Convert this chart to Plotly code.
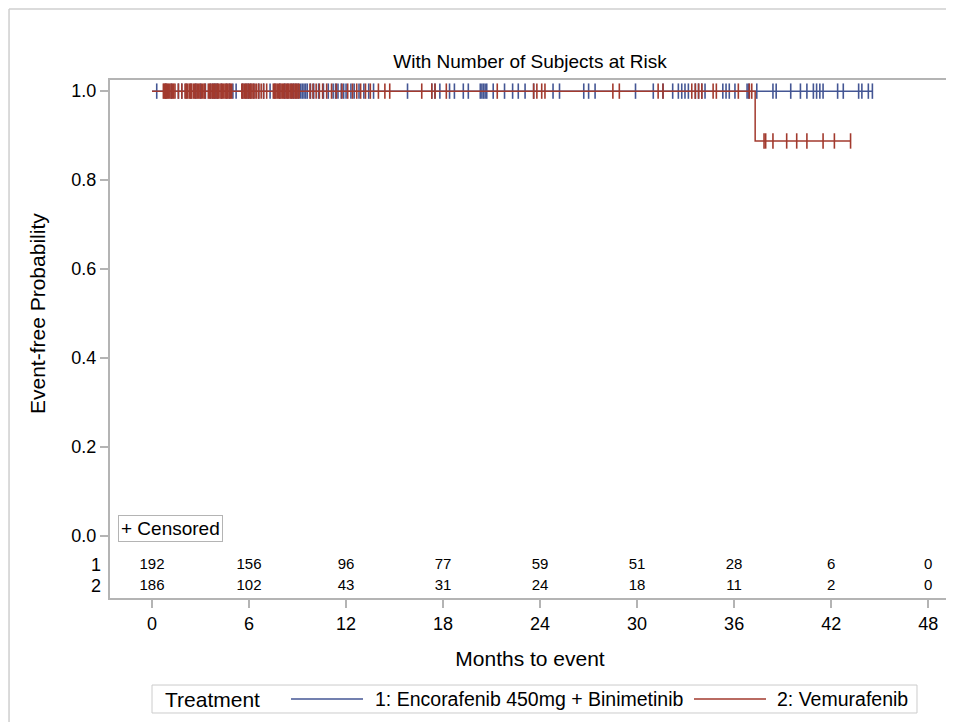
import plotly.graph_objects as go

# ---------------- data ----------------
arm_names = ['1: Encorafenib 450mg + Binimetinib', '2: Vemurafenib']
arm_colors = ['#445694', '#A23A2E']

# KM step curves (time in months, survival)
km1_t = [0, 44.55]
km1_s = [1.0, 1.0]
km2_t = [0, 37.3, 43.2]
km2_s = [1.0, 0.888, 0.888]

# censoring times
cens1 = [0.29, 0.85, 1.2, 1.63, 1.84, 2.1, 2.4, 2.7, 3.0, 3.3, 3.6, 3.75, 3.85, 3.95, 4.05,
         4.3, 4.6, 4.8, 5.0, 5.2, 5.6, 5.8, 5.95, 6.1, 6.3, 6.6, 6.9, 7.3, 7.6, 7.9, 8.2,
         8.4, 8.6, 8.75, 8.9, 9.05, 9.2, 9.3, 9.4, 9.5, 9.6, 9.8, 10.0, 10.3, 10.6, 10.9,
         11.2, 11.35, 11.5, 11.7, 11.85, 12.0, 12.3, 12.5, 12.8, 13.1, 13.4, 13.7, 15.8,
         17.3, 17.5, 17.8, 18.4, 18.7, 19.25, 19.56, 20.3, 20.4, 20.5, 20.6, 20.7, 21.1,
         21.8, 22.3, 22.65, 23.07, 23.6, 24.8, 25.2, 26.7, 27.0, 27.4, 29.9, 31.0, 31.6,
         32.2, 32.55, 32.76, 32.96, 33.17, 33.6, 33.8, 34.0, 34.2, 35.3, 35.5, 35.7, 36.05,
         36.8, 36.9, 37.4, 38.4, 38.6, 39.5, 40.1, 40.5, 40.9, 41.1, 41.3, 41.5, 42.4,
         42.75, 43.7, 43.9, 44.3, 44.55]
cens2 = [0.70, 0.76, 0.82, 0.88, 0.95, 1.02, 1.10, 1.18, 1.26, 1.34, 1.42, 1.63, 1.84,
         2.04, 2.12, 2.20, 2.30, 2.38, 2.45, 2.56, 2.64, 2.72, 2.80, 2.88, 2.96, 3.05, 3.14,
         3.22, 3.28, 3.48, 3.56, 3.64, 3.72, 3.80, 3.88, 3.96, 4.04, 4.10, 4.20, 4.28, 4.36,
         4.44, 4.52, 4.60, 4.68, 4.76, 4.84, 4.93, 5.55, 5.62, 5.70, 5.78, 5.86, 5.94, 6.02,
         6.10, 6.18, 6.26, 6.37, 6.47, 6.60, 6.75, 6.90, 7.09, 7.50, 7.58, 7.66, 7.74, 7.82,
         7.90, 7.98, 8.06, 8.14, 8.22, 8.30, 8.38, 8.46, 8.54, 8.62, 8.70, 8.78, 8.86, 8.94,
         9.02, 9.10, 9.77, 9.95, 10.15, 10.35, 10.55, 10.8, 11.1, 11.4, 11.75, 12.1, 12.4,
         12.66, 12.9, 13.2, 13.5, 14.0, 14.4, 14.7, 16.68, 17.3, 17.5, 18.2, 21.35, 23.6,
         23.8, 24.1, 24.3, 28.5, 28.9, 31.3, 31.6, 33.38, 33.6, 33.8, 34.0, 34.7, 34.9,
         36.26, 36.94, 37.09, 37.85, 37.95, 38.4, 39.25, 39.87, 40.5, 41.5, 42.2, 43.2]

# numbers at risk
risk_times = [0, 6, 12, 18, 24, 30, 36, 42, 48]
risk1 = [192, 156, 96, 77, 59, 51, 28, 6, 0]
risk2 = [186, 102, 43, 31, 24, 18, 11, 2, 0]
risk_rows = ['1', '2']
risk_y = [-0.065, -0.112]

x_ticks = [0, 6, 12, 18, 24, 30, 36, 42, 48]
y_ticks = [0.0, 0.2, 0.4, 0.6, 0.8, 1.0]
y_ticktext = ['0.0', '0.2', '0.4', '0.6', '0.8', '1.0']


def surv_at(times, surv, t):
    s = surv[0]
    for tt, ss in zip(times, surv):
        if t >= tt:
            s = ss
    return s


FONT = 'Liberation Sans, Arial, sans-serif'
GRID = '#b4b4b4'

fig = go.Figure()

for name, col, kt, ks, cens in [(arm_names[0], arm_colors[0], km1_t, km1_s, cens1),
                                (arm_names[1], arm_colors[1], km2_t, km2_s, cens2)]:
    fig.add_trace(go.Scatter(x=kt, y=ks, mode='lines', line=dict(color=col, width=1.5, shape='hv'),
                             name=name, showlegend=False))
    fig.add_trace(go.Scatter(x=cens, y=[surv_at(kt, ks, t) for t in cens], mode='markers',
                             marker=dict(symbol='line-ns', size=11, line=dict(color=col, width=1.6)),
                             showlegend=False, hoverinfo='skip'))

# at-risk table
for yy, vals in zip(risk_y, [risk1, risk2]):
    fig.add_trace(go.Scatter(x=risk_times, y=[yy] * len(vals), mode='text',
                             text=[str(v) for v in vals], textposition='middle center',
                             textfont=dict(size=15, color='black', family=FONT),
                             showlegend=False, hoverinfo='skip'))

for lab, yy in zip(risk_rows, risk_y):
    fig.add_annotation(x=-0.008, xref='paper', y=yy, yref='y', text=lab, showarrow=False,
                       xanchor='right', yanchor='middle', font=dict(size=18, color='black', family=FONT))

# "+ Censored" box
fig.add_annotation(x=0.0095, xref='paper', y=0.135, yref='paper', text='+ Censored', showarrow=False,
                   xanchor='left', yanchor='middle', bordercolor=GRID, borderwidth=1, borderpad=2,
                   bgcolor='white', font=dict(size=19, color='black', family=FONT))

# y-axis title, centred on the 0..1 part of the axis
fig.add_annotation(x=-0.087, xref='paper', y=0.55, yref='paper', text='Event-free Probability',
                   textangle=-90, showarrow=False, xanchor='center', yanchor='middle',
                   font=dict(size=21, color='black', family=FONT))

# outer frame of the graph (only top and left edges visible)
fig.add_shape(type='line', xref='paper', yref='paper', x0=-0.1202, x1=1.1, y0=1.137, y1=1.137,
              line=dict(color='#cfcfcf', width=1.5))
fig.add_shape(type='line', xref='paper', yref='paper', x0=-0.1202, x1=-0.1202, y0=-0.26, y1=1.137,
              line=dict(color='#cfcfcf', width=1.5))

# legend drawn by hand so the sample lines match the long SAS ones
fig.add_shape(type='rect', xref='paper', yref='paper', x0=0.05, x1=0.9607, y0=-0.222, y1=-0.168,
              line=dict(color='#cccccc', width=1), fillcolor='white')
fig.add_annotation(x=0.0631, xref='paper', y=-0.195, yref='paper', text='Treatment', showarrow=False,
                   xanchor='left', yanchor='middle', font=dict(size=21, color='black', family=FONT))
leg_line_x = [(0.2155, 0.3012), (0.6952, 0.781)]
leg_text_x = [0.3131, 0.7917]
for (lx0, lx1), tx, name, col in zip(leg_line_x, leg_text_x, arm_names, arm_colors):
    fig.add_shape(type='line', xref='paper', yref='paper', x0=lx0, x1=lx1, y0=-0.195, y1=-0.195,
                  line=dict(color=col, width=1.5))
    fig.add_annotation(x=tx, xref='paper', y=-0.195, yref='paper', text=name, showarrow=False,
                       xanchor='left', yanchor='middle', font=dict(size=19.5, color='black', family=FONT))

# page adds an 8px body margin, so margins are reduced by 8px
fig.update_layout(
    width=954, height=722,
    margin=dict(l=102, r=12, t=72, b=132),
    paper_bgcolor='white', plot_bgcolor='white',
    font=dict(family=FONT, color='black'),
    showlegend=False,
    title=dict(text='With Number of Subjects at Risk', x=0.5, xref='paper', xanchor='center',
               y=1 - 53 / 722, yref='container', yanchor='middle', font=dict(size=19, family=FONT)),
    xaxis=dict(range=[-2.6, 49.35], tickvals=x_ticks, ticks='outside', ticklen=8, tickcolor=GRID,
               tickwidth=1.5, showline=True, linecolor=GRID, linewidth=2, mirror=True, showgrid=False,
               zeroline=False, automargin=False, tickfont=dict(size=18, family=FONT),
               title=dict(text='Months to event', font=dict(size=21, family=FONT), standoff=19)),
    yaxis=dict(range=[-0.139, 1.025], tickvals=y_ticks, ticktext=y_ticktext, ticks='outside', ticklen=8,
               tickcolor=GRID, tickwidth=1.5, showline=True, linecolor=GRID, linewidth=2, mirror=True,
               showgrid=False, zeroline=False, automargin=False, tickfont=dict(size=18, family=FONT)),
)

fig.write_html('out.html')
